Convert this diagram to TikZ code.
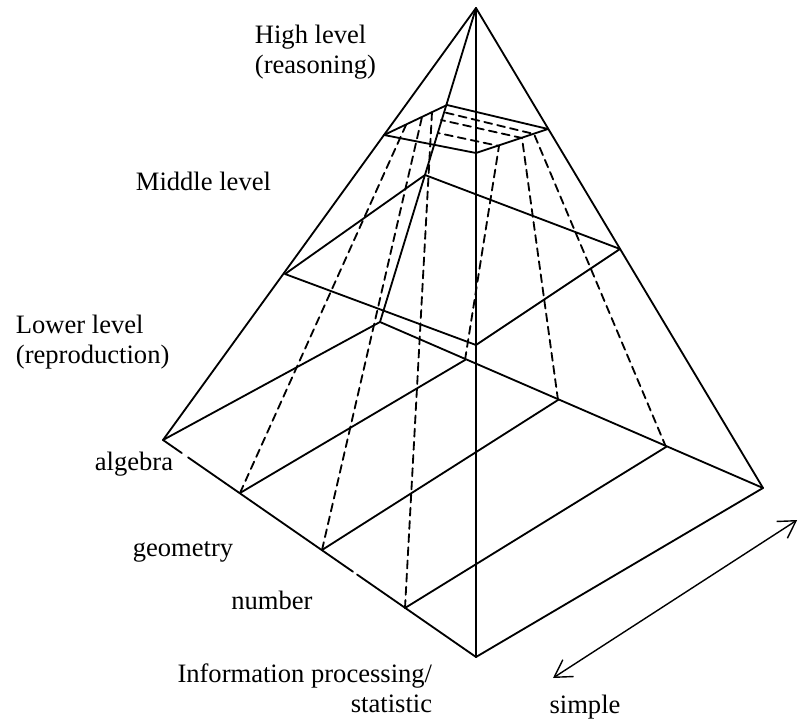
\documentclass[tikz,border=0pt]{standalone}
\usepackage{fontspec}
\setmainfont{Liberation Serif}
\usetikzlibrary{arrows.meta,calc}
\tikzset{
  hidden/.style={dash pattern=on 0.2cm off 0.13cm},
  lbl/.style={font=\fontsize{18.9}{21.4}\selectfont, inner sep=0pt},
  barb/.tip={Straight Barb[length=0.42cm,width=0.5cm]},
}
\begin{document}
\begin{tikzpicture}[line width=1.3pt,line cap=round,line join=round]
  \useasboundingbox (0,0) rectangle (19.95,-18.05);
  \coordinate (T) at (11.9,-0.2);
  \coordinate (BL) at (4.075,-11);
  \coordinate (BF) at (11.9,-16.425);
  \coordinate (BR) at (19.075,-12.2);
  \coordinate (BB) at (9.5,-8.05);
  \coordinate (TL) at (9.6,-3.375);
  \coordinate (TB) at (11.175,-2.625);
  \coordinate (TR) at (13.7,-3.225);
  \coordinate (TF) at (11.9,-3.825);
  \coordinate (ML) at (7.125,-6.85);
  \coordinate (MB) at (10.625,-4.375);
  \coordinate (MR) at (15.5,-6.225);
  \coordinate (MF) at (11.9,-8.625);
  \coordinate (D1) at (6,-12.325);
  \coordinate (D2) at (8.05,-13.75);
  \coordinate (D3) at (10.125,-15.2);
  \coordinate (E1) at (11.625,-9);
  \coordinate (E2) at (13.95,-10);
  \coordinate (E3) at (16.65,-11.175);
  \coordinate (P1) at (10.15,-3.125);
  \coordinate (P2) at (10.55,-2.925);
  \coordinate (P3) at (10.8,-2.8);
  \coordinate (R1) at (12.475,-3.65);
  \coordinate (R2) at (13.05,-3.45);
  \coordinate (R3) at (13.35,-3.35);
  \coordinate (Q1) at (10.95,-3.325);
  \coordinate (Q2) at (11.025,-3.0);
  \coordinate (Q3) at (11.075,-2.8);
  \coordinate (S1) at (13.825,-16.95);
  \coordinate (S2) at (19.93,-13.0);
  \draw (BL)--(T)--(BR);
  \draw (T)--(BF);
  \draw (T)--(BB);
  \draw (BF)--(BR)--(BB)--(BL);
  \draw (BL)--($(BL)!0.06!(BF)$) ($(BL)!0.08!(BF)$)--($(BL)!0.607!(BF)$)
    ($(BL)!0.62!(BF)$)--(BF);
  \draw (TL)--(TB)--(TR)--(TF)--cycle;
  \draw (ML)--(MB)--(MR)--(MF)--cycle;
  \draw (D1)--(E1);
  \draw (D2)--(E2);
  \draw (D3)--(E3);
  \draw[hidden] (D1)--(P1);
  \draw[hidden] (D2)--(P2);
  \draw[hidden] (D3)--(P3);
  \draw[hidden] (E1)--(R1)--(Q1);
  \draw[hidden] (E2)--(R2)--(Q2);
  \draw[hidden] (E3)--(R3)--(Q3);
  \draw[barb-barb,line width=1pt] (S1)--(S2);
  \node[lbl,anchor=west,align=left] (high) at (6.35,-1.3) {High level\\(reasoning)};
  \node[lbl,anchor=west] (middle) at (3.375,-4.525) {Middle level};
  \node[lbl,anchor=west,align=left] (lower) at (0.375,-8.55) {Lower level\\(reproduction)};
  \node[lbl] (algebra) at (3.35,-11.6) {algebra};
  \node[lbl] (geometry) at (4.575,-13.8) {geometry};
  \node[lbl] (number) at (6.8,-15) {number};
  \node[lbl,anchor=east,align=right] (info) at (10.825,-17.2) {Information processing/\\statistic};
  \node[lbl] (simple) at (14.625,-17.675) {simple};
\end{tikzpicture}
\end{document}
